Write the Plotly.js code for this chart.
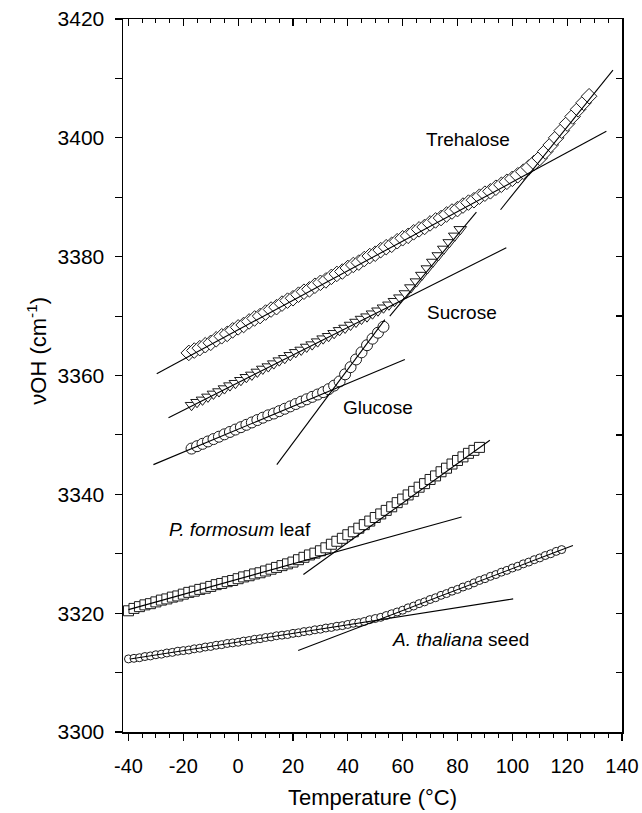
<!DOCTYPE html>
<html>
<head>
<meta charset="utf-8">
<script src="https://cdn.plot.ly/plotly-3.0.1.min.js"></script>
<style>html,body{margin:0;padding:0;background:#fff;}#chart{width:642px;height:813px;}</style>
</head>
<body>
<div id="chart"></div>
<script>
// ---- Data ----
const trehaloseX = [-18,-16,-14,-12,-10,-8,-6,-4,-2,0,2,4,6,8,10,12,14,16,18,20,22,24,26,28,30,32,34,36,38,40,42,44,46,48,50,52,54,56,58,60,62,64,66,68,70,72,74,76,78,80,82,84,86,88,90,92,94,96,98,100,102,104,106,108,110,112,114,116,118,120,122,124,126,128];
const trehaloseY = [3363.8,3364.2,3364.6,3365.1,3365.5,3366.1,3366.6,3367.0,3367.6,3368.1,3368.5,3369.1,3369.6,3370.0,3370.6,3371.1,3371.5,3372.1,3372.6,3373.0,3373.6,3374.1,3374.5,3375.1,3375.6,3376.0,3376.6,3377.1,3377.5,3378.1,3378.6,3379.0,3379.6,3380.1,3380.5,3381.1,3381.6,3382.0,3382.6,3383.1,3383.5,3384.1,3384.6,3385.0,3385.6,3386.1,3386.5,3387.1,3387.6,3388.0,3388.6,3389.1,3389.5,3390.1,3390.6,3391.0,3391.6,3392.1,3392.6,3393.1,3393.7,3394.3,3395.0,3395.8,3396.6,3397.7,3398.8,3400.0,3401.2,3402.4,3403.6,3404.8,3405.9,3407.0];

const sucroseX = [-17,-15,-13,-11,-9,-7,-5,-3,-1,1,3,5,7,9,11,13,15,17,19,21,23,25,27,29,31,33,35,37,39,41,43,45,47,49,51,53,55,57,59,61,63,65,67,69,71,73,75,77,79,81];
const sucroseY = [3355.0,3355.5,3355.9,3356.4,3356.9,3357.3,3357.8,3358.3,3358.7,3359.2,3359.7,3360.1,3360.6,3361.1,3361.5,3362.0,3362.5,3362.9,3363.4,3363.9,3364.3,3364.8,3365.2,3365.7,3366.2,3366.6,3367.1,3367.6,3368.0,3368.5,3369.0,3369.5,3369.9,3370.4,3370.9,3371.4,3371.9,3372.5,3373.1,3373.8,3374.8,3375.8,3376.9,3378.0,3379.1,3380.2,3381.3,3382.4,3383.5,3384.6];

const glucoseX = [-17,-15,-13,-11,-9,-7,-5,-3,-1,1,3,5,7,9,11,13,15,17,19,21,23,25,27,29,31,33,35,37,39,41,43,45,47,49,51,53];
const glucoseY = [3347.7,3348.1,3348.5,3348.9,3349.3,3349.7,3350.1,3350.5,3350.9,3351.3,3351.7,3352.1,3352.5,3352.9,3353.3,3353.6,3354.0,3354.4,3354.8,3355.2,3355.6,3356.0,3356.4,3356.8,3357.2,3357.7,3358.3,3359.0,3360.2,3361.4,3362.7,3363.9,3365.1,3366.2,3367.2,3368.2];

const formosumX = [-40,-38,-36,-34,-32,-30,-28,-26,-24,-22,-20,-18,-16,-14,-12,-10,-8,-6,-4,-2,0,2,4,6,8,10,12,14,16,18,20,22,24,26,28,30,32,34,36,38,40,42,44,46,48,50,52,54,56,58,60,62,64,66,68,70,72,74,76,78,80,82,84,86,88];
const formosumY = [3320.4,3320.8,3321.1,3321.4,3321.6,3321.9,3322.2,3322.4,3322.7,3322.9,3323.2,3323.5,3323.7,3324.0,3324.2,3324.5,3324.8,3325.0,3325.3,3325.5,3325.8,3326.1,3326.3,3326.6,3326.8,3327.1,3327.4,3327.7,3328.0,3328.3,3328.6,3329.0,3329.4,3329.8,3330.1,3330.5,3331.0,3331.6,3332.1,3332.6,3333.2,3333.7,3334.3,3334.9,3335.5,3336.1,3336.7,3337.3,3337.9,3338.6,3339.2,3339.9,3340.5,3341.2,3341.8,3342.5,3343.1,3343.8,3344.4,3345.1,3345.7,3346.3,3346.9,3347.4,3347.9];

const thalianaX = [-40,-38,-36,-34,-32,-30,-28,-26,-24,-22,-20,-18,-16,-14,-12,-10,-8,-6,-4,-2,0,2,4,6,8,10,12,14,16,18,20,22,24,26,28,30,32,34,36,38,40,42,44,46,48,50,52,54,56,58,60,62,64,66,68,70,72,74,76,78,80,82,84,86,88,90,92,94,96,98,100,102,104,106,108,110,112,114,116,118];
const thalianaY = [3312.3,3312.4,3312.5,3312.7,3312.8,3313.0,3313.1,3313.3,3313.4,3313.6,3313.7,3313.8,3314.0,3314.1,3314.3,3314.4,3314.6,3314.7,3314.9,3315.0,3315.1,3315.3,3315.4,3315.6,3315.7,3315.9,3316.0,3316.2,3316.3,3316.4,3316.6,3316.7,3316.9,3317.0,3317.2,3317.3,3317.5,3317.6,3317.8,3317.9,3318.1,3318.3,3318.4,3318.6,3318.9,3319.1,3319.3,3319.6,3319.9,3320.2,3320.5,3320.9,3321.2,3321.6,3321.9,3322.3,3322.6,3323.0,3323.3,3323.7,3324.0,3324.4,3324.7,3325.1,3325.5,3325.8,3326.2,3326.5,3326.9,3327.2,3327.6,3327.9,3328.3,3328.6,3329.0,3329.3,3329.7,3330.0,3330.4,3330.7];

// Fitted straight lines (endpoints)
const fitLinesX = [
  [-29.7, 134.3], [95.7, 136.7],   // trehalose
  [-25.4, 97.8],  [55.3, 86.9],    // sucrose
  [-30.9, 60.8],  [14.1, 53.5],    // glucose
  [-40, 81.5],    [23.8, 91.8],    // P. formosum
  [-39.4, 100.3], [21.9, 122.1]    // A. thaliana
];
const fitLinesY = [
  [3360.3, 3401.1], [3387.9, 3411.4],
  [3352.9, 3381.5], [3370.0, 3387.5],
  [3345.0, 3362.7], [3345.0, 3369.4],
  [3320.6, 3336.2], [3326.5, 3349.1],
  [3312.3, 3322.4], [3313.7, 3331.4]
];

const xTickVals = [-40,-20,0,20,40,60,80,100,120,140];
const yTickVals = [3300,3320,3340,3360,3380,3400,3420];

const labelText = ["Trehalose","Sucrose","Glucose","<i>P. formosum</i> leaf","<i>A. thaliana</i> seed"];
const labelX = [83.8, 81.5, 50.9, 0.7, 81.2];
const labelY = [3399.7, 3370.6, 3354.6, 3334.1, 3315.6];

// ---- Build traces ----
const FONT = "Liberation Sans, Arial, Helvetica, sans-serif";
function markers(x, y, symbol, size) {
  return {x: x, y: y, type: 'scatter', mode: 'markers', showlegend: false, hoverinfo: 'skip',
    marker: {symbol: symbol, size: size, color: '#ffffff', line: {color: '#1a1a1a', width: 1}}};
}
const traces = [
  markers(trehaloseX, trehaloseY, 'diamond', 12),
  markers(sucroseX, sucroseY, 'triangle-down', 11),
  markers(glucoseX, glucoseY, 'circle', 11),
  markers(formosumX, formosumY, 'square', 10),
  markers(thalianaX, thalianaY, 'circle', 8)
];
for (let i = 0; i < fitLinesX.length; i++) {
  traces.push({x: fitLinesX[i], y: fitLinesY[i], type: 'scatter', mode: 'lines', showlegend: false,
    hoverinfo: 'skip', line: {color: '#000', width: 1.1}});
}
// helper trace for the mirrored frame axes
traces.push({x: [0], y: [3300], xaxis: 'x2', yaxis: 'y2', type: 'scatter', mode: 'markers',
  marker: {opacity: 0}, showlegend: false, hoverinfo: 'skip'});

const annotations = labelText.map((t, i) => ({
  x: labelX[i], y: labelY[i], xref: 'x', yref: 'y', text: t, showarrow: false,
  font: {family: FONT, size: 19, color: '#000'}, xanchor: 'center', yanchor: 'middle'
}));
annotations.push({
  xref: 'paper', yref: 'paper', x: -0.174, y: 0.535, text: 'νOH (cm<sup>-1</sup>)', textangle: -90,
  showarrow: false, font: {family: FONT, size: 22, color: '#000'}, xanchor: 'center', yanchor: 'middle'
});

const axisCommon = {showgrid: false, zeroline: false, showline: true, linecolor: '#000', linewidth: 1.5,
  tickcolor: '#000', tickwidth: 1.2};

const layout = {
  width: 642, height: 813,
  margin: {l: 123, r: 20, t: 19, b: 81},
  paper_bgcolor: '#fff', plot_bgcolor: '#fff',
  font: {family: FONT, color: '#000'},
  showlegend: false,
  xaxis: Object.assign({}, axisCommon, {
    range: [-42, 140], tickmode: 'array', tickvals: xTickVals, ticktext: xTickVals.map(String),
    ticks: 'outside', ticklen: 7, tickfont: {size: 20, family: FONT}, ticklabelstandoff: 8,
    minor: {dtick: 5, tick0: -40, ticks: 'outside', ticklen: 4, tickwidth: 1, tickcolor: '#000', showgrid: false},
    title: {text: 'Temperature (°C)', font: {size: 22, family: FONT}, standoff: 14}
  }),
  xaxis2: Object.assign({}, axisCommon, {
    overlaying: 'x', side: 'top', range: [-42, 140], showticklabels: false,
    tickmode: 'array', tickvals: xTickVals, ticks: 'inside', ticklen: 7,
    minor: {dtick: 5, tick0: -40, ticks: 'inside', ticklen: 4, tickwidth: 1, tickcolor: '#000', showgrid: false}
  }),
  yaxis: Object.assign({}, axisCommon, {
    range: [3300, 3420], tickmode: 'array', tickvals: yTickVals, ticktext: yTickVals.map(String),
    ticks: 'outside', ticklen: 7, tickfont: {size: 21, family: FONT}, ticklabelstandoff: 6,
    minor: {dtick: 10, tick0: 3300, ticks: 'outside', ticklen: 7, tickwidth: 1, tickcolor: '#000', showgrid: false}
  }),
  yaxis2: Object.assign({}, axisCommon, {
    overlaying: 'y', side: 'right', range: [3300, 3420], showticklabels: false,
    tickmode: 'linear', tick0: 3300, dtick: 10, ticks: 'inside', ticklen: 6
  }),
  annotations: annotations
};

Plotly.newPlot('chart', traces, layout, {staticPlot: true, displayModeBar: false});
</script>
</body>
</html>
